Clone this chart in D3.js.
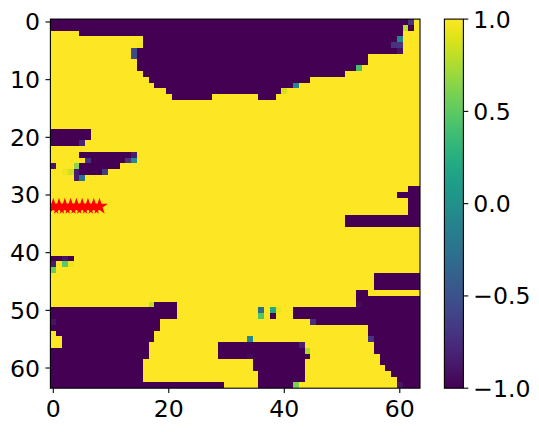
<!DOCTYPE html>
<meta charset="utf-8">
<head>
  <title>Heatmap</title>
  <script src="https://d3js.org/d3.v7.min.js"></script>
</head>
<style>
  body { margin: 0; background: #fff; }
  svg { display: block; }
  text { font-family: "DejaVu Sans", sans-serif; }
</style>
<body>
  <div id="my_dataviz"></div>
  <script>
    // grid size, every cell is 1.0 unless listed below
    var gridSize = 64;

    // runs of -1 cells: [row, first col, last col]
    var lowRuns = [
      [0, 0, 61], [0, 62, 62], [1, 0, 60], [1, 62, 62], [2, 5, 60], [3, 16, 59], [4, 16, 58],
      [5, 15, 59], [6, 15, 54], [7, 15, 54], [8, 15, 52], [9, 16, 50], [10, 17, 44], [11, 18, 41],
      [12, 20, 39], [13, 21, 27], [13, 36, 38],
      [19, 0, 6], [20, 0, 6], [21, 0, 4], [23, 5, 13], [24, 7, 12], [25, 5, 11], [26, 5, 8],
      [29, 62, 63], [30, 60, 63], [31, 62, 63], [32, 62, 63], [33, 62, 63], [34, 51, 63], [35, 51, 63],
      [41, 0, 3],
      [44, 56, 63], [45, 56, 63], [46, 56, 63], [47, 53, 54], [48, 53, 63], [49, 18, 21], [49, 54, 63],
      [50, 0, 21], [50, 42, 63], [51, 0, 21], [51, 42, 63], [52, 0, 18], [52, 46, 63],
      [53, 0, 18], [53, 55, 63], [54, 1, 17], [54, 55, 63], [55, 2, 17], [55, 56, 63],
      [56, 2, 16], [56, 29, 42], [56, 56, 63], [57, 0, 16], [57, 29, 43], [57, 56, 63],
      [58, 0, 16], [58, 29, 44], [58, 57, 63], [59, 0, 15], [59, 35, 43], [59, 57, 63],
      [60, 0, 15], [60, 35, 43], [60, 58, 63], [61, 0, 15], [61, 36, 43], [61, 59, 63],
      [62, 0, 15], [62, 36, 43], [62, 60, 63], [63, 0, 29], [63, 36, 41], [63, 61, 63]
    ];

    // cells in between: [row, col, value]
    var midCells = [
      [0, 62, -0.7], [1, 61, 0.8], [3, 60, -0.1], [4, 59, -0.7], [4, 60, -0.7], [5, 60, -0.9],
      [4, 15, 0.97], [5, 14, -0.55], [6, 14, -0.55], [8, 53, 0.4], [11, 42, -0.1], [12, 40, 0.88],
      [21, 5, -0.8], [23, 14, -0.85], [24, 6, -0.7], [24, 13, -0.7], [24, 14, -0.05],
      [25, 0, -0.9], [25, 4, 0.65], [26, 2, 0.95], [26, 3, 0.85], [26, 4, -0.85], [26, 9, -0.65],
      [27, 4, -0.85], [27, 5, -0.25],
      [41, 2, -0.9], [42, 0, -0.85], [42, 2, 0.5], [42, 3, 0.95], [43, 0, 0.55],
      [49, 17, 0.8], [49, 53, -0.95], [50, 36, -0.3], [50, 38, 0.2], [50, 39, 0.93], [51, 36, 0.45], [51, 38, -1],
      [52, 0, -0.9], [52, 45, -0.75], [55, 34, -0.05], [55, 55, -0.7], [56, 43, -0.85],
      [57, 44, 0.75], [58, 34, -0.95], [63, 42, 0.6], [63, 60, -0.9]
    ];

    // the row of red stars
    var starX = [0, 1, 2, 3, 4, 5, 6, 7, 8];
    var starY = [32, 32, 32, 32, 32, 32, 32, 32, 32];

    var xTicks = [0, 20, 40, 60];
    var yTicks = [0, 10, 20, 30, 40, 50, 60];
    var colorTicks = [-1, -0.5, 0, 0.5, 1];

    // build the cell table
    var cells = [];
    var grid = d3.range(gridSize).map(function () { return d3.range(gridSize).map(function () { return 1; }); });
    lowRuns.forEach(function (r) {
      for (var c = r[1]; c <= r[2]; c++) grid[r[0]][c] = -1;
    });
    midCells.forEach(function (m) { grid[m[0]][m[1]] = m[2]; });
    grid.forEach(function (row, r) {
      row.forEach(function (v, c) { cells.push({ row: r, col: c, value: v }); });
    });

    var svg = d3.select("#my_dataviz")
      .append("svg")
      .attr("width", 539)
      .attr("height", 432);

    // scales
    var x = d3.scaleLinear().domain([-0.5, 63.5]).range([50.4, 420]);
    var y = d3.scaleLinear().domain([-0.5, 63.5]).range([19.1, 388.2]);
    var cbar = d3.scaleLinear().domain([-1, 1]).range([388.2, 19.1]);
    var color = d3.scaleSequential(d3.interpolateViridis).domain([-1, 1]);

    svg.append("clipPath").attr("id", "plot-clip")
      .append("rect")
      .attr("x", x.range()[0])
      .attr("y", y.range()[0])
      .attr("width", x.range()[1] - x.range()[0])
      .attr("height", y.range()[1] - y.range()[0]);

    // heatmap cells
    svg.append("g")
      .attr("shape-rendering", "crispEdges")
      .selectAll("rect")
      .data(cells)
      .enter()
      .append("rect")
      .attr("x", function (d) { return x(d.col - 0.5); })
      .attr("y", function (d) { return y(d.row - 0.5); })
      .attr("width", function (d) { return x(d.col + 0.5) - x(d.col - 0.5); })
      .attr("height", function (d) { return y(d.row + 0.5) - y(d.row - 0.5); })
      .attr("fill", function (d) { return color(d.value); });

    // stars
    svg.append("g")
      .attr("clip-path", "url(#plot-clip)")
      .selectAll("path")
      .data(starX)
      .enter()
      .append("path")
      .attr("d", d3.symbol().type(d3.symbolStar).size(48))
      .attr("transform", function (d, i) { return "translate(" + x(d) + "," + y(starY[i]) + ")"; })
      .attr("fill", "red")
      .attr("stroke", "red")
      .attr("stroke-width", 1.4);

    // frame
    svg.append("rect")
      .attr("x", x.range()[0])
      .attr("y", y.range()[0])
      .attr("width", x.range()[1] - x.range()[0])
      .attr("height", y.range()[1] - y.range()[0])
      .attr("fill", "none")
      .attr("stroke", "#000")
      .attr("stroke-width", 1.1);

    // axes
    function styleAxis(g) {
      g.selectAll(".domain").remove();
      g.selectAll(".tick line").attr("stroke", "#000").attr("stroke-width", 1.1);
      g.selectAll(".tick text").attr("fill", "#000").style("font-size", "23.6px").style("font-family", "'DejaVu Sans'");
    }

    svg.append("g")
      .attr("transform", "translate(0," + y.range()[1] + ")")
      .call(d3.axisBottom(x).tickValues(xTicks).tickSize(4.9).tickPadding(7).tickFormat(d3.format("d")).offset(0))
      .call(styleAxis);

    svg.append("g")
      .attr("transform", "translate(" + x.range()[0] + ",0)")
      .call(d3.axisLeft(y).tickValues(yTicks).tickSize(4.9).tickPadding(5.5).tickFormat(d3.format("d")).offset(0))
      .call(styleAxis)
      .selectAll(".tick text").attr("dy", "0.36em");

    // colorbar
    var cbarLeft = 444.4, cbarRight = 463.4;
    var gradient = svg.append("linearGradient")
      .attr("id", "viridis")
      .attr("x1", 0).attr("x2", 0).attr("y1", 1).attr("y2", 0);
    d3.range(0, 1.001, 0.05).forEach(function (t) {
      gradient.append("stop").attr("offset", t).attr("stop-color", d3.interpolateViridis(t));
    });
    svg.append("rect")
      .attr("x", cbarLeft)
      .attr("y", cbar.range()[1])
      .attr("width", cbarRight - cbarLeft)
      .attr("height", cbar.range()[0] - cbar.range()[1])
      .attr("fill", "url(#viridis)")
      .attr("stroke", "#000")
      .attr("stroke-width", 1.1);

    svg.append("g")
      .attr("transform", "translate(" + cbarRight + ",0)")
      .call(d3.axisRight(cbar).tickValues(colorTicks).tickSize(4.9).tickPadding(4.9).tickFormat(d3.format(".1f")).offset(0))
      .call(styleAxis)
      .selectAll(".tick text").attr("dy", "0.36em");
  </script>
</body>
